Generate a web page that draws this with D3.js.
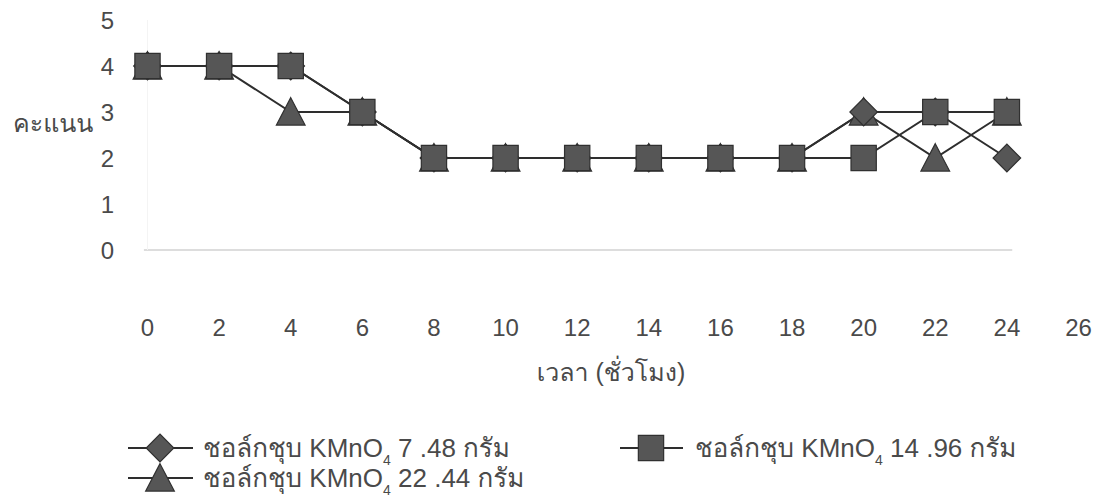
<!DOCTYPE html>
<html lang="th">
<head>
<meta charset="UTF-8">
<title>คะแนน</title>
<script src="https://d3js.org/d3.v7.min.js"></script>
<style>
  body { margin: 0; background: #ffffff; }
  svg { display: block; }
  .lbl { font-family: "Liberation Sans", "Loma", "Garuda", "Norasi", "Noto Sans Thai Looped", "Noto Serif Thai", Arial, sans-serif; fill: #4a4a4a; }
  .tick-text { font-size: 24px; }
  .line { fill: none; stroke: #2e2e2e; stroke-width: 2; }
  .mark { fill: #565656; stroke: #303030; stroke-width: 1.2; }
</style>
</head>
<body>
<div id="chart"></div>
<script>
// data
const hours = [0, 2, 4, 6, 8, 10, 12, 14, 16, 18, 20, 22, 24];
const diamondScores  = [4, 4, 4, 3, 2, 2, 2, 2, 2, 2, 3, 3, 2]; // 7.48 g
const squareScores   = [4, 4, 4, 3, 2, 2, 2, 2, 2, 2, 2, 3, 3]; // 14.96 g
const triangleScores = [4, 4, 3, 3, 2, 2, 2, 2, 2, 2, 3, 2, 3]; // 22.44 g
const xTicks = [0, 2, 4, 6, 8, 10, 12, 14, 16, 18, 20, 22, 24, 26];
const yTicks = [0, 1, 2, 3, 4, 5];
const legendAmounts = ["7 .48", "14 .96", "22 .44"];

const W = 1099, H = 502;

const svg = d3.select("#chart").append("svg")
    .attr("width", W).attr("height", H);

const x = d3.scaleLinear().domain([0, 26]).range([147.5, 1078.5]);
const y = d3.scaleLinear().domain([0, 5]).range([250, 20]);

// custom triangle so width ~ height like the original markers
const triType = {
    draw(ctx, size) {
        const s = Math.sqrt(size);
        ctx.moveTo(0, -s * 0.55);
        ctx.lineTo(s * 0.55, s * 0.5);
        ctx.lineTo(-s * 0.55, s * 0.5);
        ctx.closePath();
    }
};

const series = [
    { name: "diamond", values: diamondScores, sym: d3.symbol(d3.symbolSquare, 380), rot: 45, amount: legendAmounts[0] },
    { name: "square", values: squareScores, sym: d3.symbol(d3.symbolSquare, 640), rot: 0, amount: legendAmounts[1] },
    { name: "triangle", values: triangleScores, sym: d3.symbol(triType, 680), rot: 0, amount: legendAmounts[2] }
];

// faint axes as in the scan
svg.append("line")
    .attr("x1", x(-0.1)).attr("x2", x(24.15))
    .attr("y1", y(0)).attr("y2", y(0))
    .attr("stroke", "#d2d2d2").attr("stroke-width", 1.5);

svg.append("line")
    .attr("x1", x(0)).attr("x2", x(0))
    .attr("y1", y(0)).attr("y2", y(5))
    .attr("stroke", "#f4f4f4").attr("stroke-width", 1);

// y tick labels
svg.append("g").selectAll("text")
    .data(yTicks).join("text")
    .attr("class", "lbl tick-text")
    .attr("x", 114)
    .attr("y", d => y(d))
    .attr("dy", "0.36em")
    .attr("text-anchor", "end")
    .text(d => d);

// x tick labels
svg.append("g").selectAll("text")
    .data(xTicks).join("text")
    .attr("class", "lbl tick-text")
    .attr("x", d => x(d))
    .attr("y", 327)
    .attr("dy", "0.36em")
    .attr("text-anchor", "middle")
    .text(d => d);

svg.append("text")
    .attr("class", "lbl")
    .attr("x", 13).attr("y", 123).attr("dy", "0.36em")
    .attr("font-size", 25)
    .text("คะแนน");

svg.append("text")
    .attr("class", "lbl")
    .attr("x", 611).attr("y", 372).attr("dy", "0.36em")
    .attr("text-anchor", "middle")
    .attr("font-size", 25)
    .text("เวลา (ชั่วโมง)");

const line = d3.line()
    .x((d, i) => x(hours[i]))
    .y(d => y(d));

const drawOrder = [series[2], series[0], series[1]];

svg.append("g").selectAll("path")
    .data(drawOrder).join("path")
    .attr("class", "line")
    .attr("d", s => line(s.values));

drawOrder.forEach(s => {
    svg.append("g").selectAll("path")
        .data(s.values).join("path")
        .attr("class", "mark")
        .attr("d", s.sym)
        .attr("transform", (d, i) => `translate(${x(hours[i])},${y(d)}) rotate(${s.rot})`);
});

// legend: diamond & triangle on the left column, square on the right
const legendPos = [
    { s: series[0], cx: 160, x1: 128, x2: 193, tx: 203, cy: 448 },
    { s: series[1], cx: 651, x1: 620, x2: 683, tx: 695, cy: 448 },
    { s: series[2], cx: 160, x1: 128, x2: 193, tx: 203, cy: 478 }
];

const leg = svg.append("g").selectAll("g")
    .data(legendPos).join("g");

leg.append("line")
    .attr("x1", d => d.x1).attr("x2", d => d.x2)
    .attr("y1", d => d.cy).attr("y2", d => d.cy)
    .attr("stroke", "#2e2e2e").attr("stroke-width", 2);

leg.append("path")
    .attr("class", "mark")
    .attr("d", d => d.s.sym())
    .attr("transform", d => `translate(${d.cx},${d.cy}) rotate(${d.s.rot})`);

const lt = leg.append("text")
    .attr("class", "lbl")
    .attr("x", d => d.tx).attr("y", d => d.cy).attr("dy", "0.36em")
    .attr("font-size", 26);
lt.append("tspan").text("ชอล์กชุบ KMnO");
lt.append("tspan").attr("font-size", 14).attr("dy", 8).text("4");
lt.append("tspan").attr("dy", -8).text(d => " " + d.s.amount + " กรัม");
</script>
</body>
</html>
